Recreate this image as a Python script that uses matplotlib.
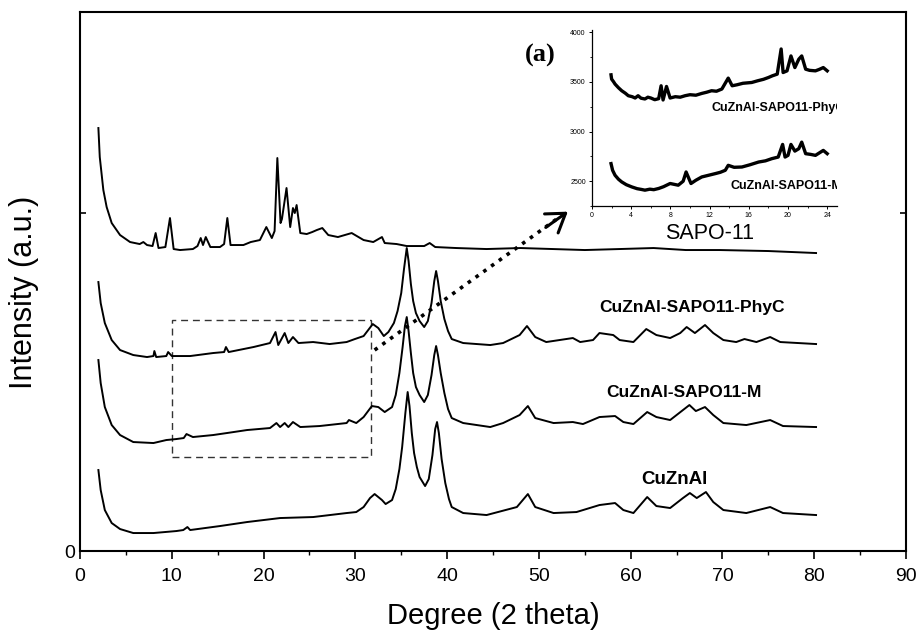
import matplotlib
matplotlib.use("Agg")
import matplotlib.pyplot as plt
from matplotlib.patches import Rectangle
from matplotlib.ticker import MultipleLocator

plt.rcParams['font.family'] = ['Liberation Sans', 'DejaVu Sans']

# --- main XRD patterns (2 theta, intensity in a.u., stacked offsets included) ---
sapo_x = [2.0, 2.15, 2.54, 2.9, 3.45, 4.36, 5.45, 6.5, 6.9, 7.3, 7.9, 8.24, 8.55, 9.3, 9.8, 10.2,
          10.9, 12.3, 12.8, 13.15, 13.4, 13.7, 14.2, 15.25, 15.7, 16.05, 16.4, 17.8, 18.6, 19.6,
          20.3, 20.9, 21.2, 21.5, 21.85, 22.0, 22.5, 22.9, 23.2, 23.4, 23.6, 24.0, 24.7, 25.3,
          25.8, 26.4, 27.05, 28.1, 29.6, 30.9, 31.95, 32.9, 33.2, 34.5, 35.6, 37.5, 38.1, 38.7,
          41.0, 44.3, 48.0, 51.5, 55.0, 58.8, 62.5, 66.0, 69.7, 75.0, 80.2]
sapo_y = [423, 394, 361, 344, 328, 316, 309, 307, 309, 306, 305, 318, 303, 304, 333, 302,
          301, 302, 305, 313, 306, 314, 304, 304, 307, 333, 306, 306, 309, 311,
          324, 313, 320, 393, 328, 332, 363, 324, 343, 338, 346, 318, 317, 319,
          321, 323, 316, 314, 318, 311, 309, 314, 308, 307, 305, 305, 308, 304,
          303, 302, 303, 302, 301, 302, 303, 301, 301, 300, 298]

phyc_x = [2.0, 2.25, 2.7, 3.45, 4.36, 5.8, 7.3, 8.0, 8.1, 8.3, 9.4, 9.6, 10.0, 12.0, 14.5, 15.7,
          15.9, 16.2, 18.9, 20.7, 21.3, 21.6, 22.3, 22.7, 23.2, 23.8, 25.4, 27.2, 29.05, 29.95,
          30.9, 31.4, 31.9, 32.5, 33.1, 33.6, 34.2, 34.6, 35.0, 35.3, 35.6, 35.8, 36.05, 36.3,
          36.6, 37.0, 37.5, 37.9, 38.3, 38.6, 38.8, 39.0, 39.3, 39.7, 40.1, 40.5, 41.75, 44.7,
          46.1, 47.9, 48.7, 49.6, 50.8, 53.7, 54.5, 55.9, 56.6, 58.1, 58.8, 60.3, 61.7, 62.8,
          64.3, 65.4, 66.1, 67.0, 68.1, 69.0, 70.1, 71.5, 72.4, 73.7, 75.2, 76.3, 80.2]
phyc_y = [269, 248, 228, 211, 201, 196, 194, 195, 200, 194, 195, 199, 195, 195, 198, 199,
          204, 199, 204, 208, 219, 206, 218, 208, 214, 208, 209, 207, 209, 212,
          215, 221, 227, 223, 215, 219, 228, 240, 258, 282, 303, 290, 267, 250,
          238, 230, 224, 230, 248, 270, 280, 270, 250, 232, 220, 212, 208, 206,
          208, 216, 225, 214, 209, 213, 209, 211, 218, 216, 211, 209, 222, 216,
          213, 218, 224, 218, 226, 218, 211, 209, 212, 209, 214, 209, 207]

m_x = [2.0, 2.25, 2.7, 3.45, 4.36, 5.8, 8.0, 9.4, 10.5, 11.3, 11.6, 12.3, 14.5, 16.0, 18.2, 20.7,
       21.4, 21.8, 22.3, 22.7, 23.2, 24.0, 26.1, 29.05, 29.3, 30.1, 30.9, 31.8, 32.5, 33.2,
       34.0, 34.4, 34.8, 35.15, 35.4, 35.6, 35.8, 36.05, 36.3, 36.6, 37.0, 37.5, 37.9, 38.3,
       38.6, 38.8, 39.0, 39.3, 39.7, 40.1, 40.5, 41.75, 44.7, 46.1, 47.9, 48.8, 49.6, 51.6,
       53.7, 54.8, 56.6, 58.3, 59.2, 60.3, 61.8, 62.8, 64.3, 65.7, 66.4, 67.1, 68.1, 69.0,
       70.1, 72.6, 75.2, 76.6, 80.2]
m_y = [191, 168, 144, 126, 116, 109, 108, 111, 112, 113, 117, 114, 116, 118, 121, 123,
       128, 124, 128, 124, 129, 124, 125, 128, 131, 128, 134, 145, 144, 139,
       144, 156, 178, 204, 225, 234, 220, 198, 178, 164, 156, 149, 156, 176,
       196, 205, 196, 178, 158, 142, 133, 128, 124, 128, 136, 145, 133, 128,
       129, 127, 134, 135, 129, 127, 139, 134, 131, 141, 146, 140, 144, 136,
       128, 126, 131, 125, 124]

cza_x = [2.0, 2.25, 2.7, 3.45, 4.36, 5.8, 8.0, 10.5, 11.25, 11.7, 12.0, 15.25, 18.2, 21.8, 25.4,
         29.05, 30.1, 30.9, 31.6, 32.1, 32.9, 33.3, 34.0, 34.4, 34.8, 35.1, 35.45, 35.7, 35.9,
         36.15, 36.4, 36.7, 37.0, 37.6, 38.0, 38.4, 38.7, 38.9, 39.1, 39.4, 39.8, 40.2, 40.5,
         41.75, 44.3, 47.6, 48.8, 49.6, 51.6, 54.1, 56.6, 58.3, 59.2, 60.3, 61.8, 62.8, 64.3,
         65.7, 66.45, 67.2, 68.2, 69.0, 70.1, 72.6, 75.2, 76.6, 80.2]
cza_y = [81, 61, 41, 28, 22, 18, 18, 20, 21, 24, 21, 25, 29, 33, 34,
         38, 39, 44, 53, 57, 51, 47, 51, 62, 82, 104, 138, 159, 145,
         118, 98, 84, 74, 65, 72, 96, 122, 129, 118, 92, 68, 52, 44,
         38, 36, 44, 57, 44, 38, 39, 46, 48, 41, 38, 54, 45, 43,
         53, 58, 53, 59, 49, 41, 38, 44, 38, 36]

# --- inset: low-angle region of the two composites ---
in_phyc_x = [1.94, 2.0, 2.2, 2.35, 2.7, 3.03, 3.4, 3.7, 4.1, 4.4, 4.7, 5.0, 5.4, 5.7, 6.0, 6.4,
             6.8, 7.05, 7.25, 7.6, 7.97, 8.5, 9.0, 9.5, 10.0, 10.6, 11.2, 11.7, 12.2, 12.7,
             13.25, 13.9, 14.3, 14.8, 15.4, 16.3, 16.9, 17.5, 18.0, 18.4, 18.9, 19.3, 19.5,
             19.9, 20.3, 20.7, 21.1, 21.4, 21.8, 22.2, 22.8, 23.2, 23.6, 24.0]
in_phyc_y = [3570, 3527, 3500, 3477, 3440, 3410, 3385, 3360, 3350, 3337, 3360, 3335, 3327, 3345,
             3337, 3320, 3330, 3460, 3317, 3453, 3337, 3350, 3345, 3360, 3370, 3365, 3383, 3395,
             3410, 3405, 3427, 3537, 3460, 3470, 3485, 3493, 3510, 3525, 3543, 3560, 3577, 3830,
             3593, 3610, 3760, 3643, 3727, 3760, 3627, 3615, 3610, 3625, 3643, 3610]
in_m_x = [1.94, 2.1, 2.35, 2.7, 3.03, 3.5, 4.05, 4.6, 5.0, 5.4, 5.9, 6.3, 6.8, 7.3, 7.97, 8.8,
          9.3, 9.6, 10.1, 10.6, 11.2, 11.9, 12.6, 13.1, 13.6, 13.9, 14.5, 15.3, 16.1, 17.0,
          17.7, 18.35, 19.0, 19.45, 19.7, 20.0, 20.3, 20.7, 21.1, 21.4, 21.8, 22.3, 22.8,
          23.2, 23.6, 24.0]
in_m_y = [2677, 2610, 2560, 2520, 2493, 2465, 2443, 2425, 2418, 2410, 2420, 2415, 2427, 2445,
          2477, 2460, 2500, 2593, 2477, 2510, 2543, 2560, 2577, 2590, 2610, 2660, 2640, 2643,
          2665, 2693, 2705, 2727, 2743, 2870, 2743, 2760, 2870, 2803, 2827, 2893, 2777, 2770,
          2760, 2785, 2810, 2777]

labels = ["CuZnAl-SAPO11-PhyC", "CuZnAl-SAPO11-M", "CuZnAl"]


def main():
    fig = plt.figure(figsize=(9.21, 6.4), dpi=100)
    ax = fig.add_axes([0.0869, 0.139, 0.8968, 0.8422])

    for xs, ys in [(sapo_x, sapo_y), (phyc_x, phyc_y), (m_x, m_y), (cza_x, cza_y)]:
        ax.plot(xs, ys, color='black', lw=1.4)

    ax.set_xlim(0, 90)
    ax.set_ylim(0, 539)
    ax.xaxis.set_major_locator(MultipleLocator(10))
    ax.xaxis.set_minor_locator(MultipleLocator(5))
    ax.set_yticks([0, 338])
    ax.set_yticklabels(['0', ''])
    ax.tick_params(axis='x', which='major', direction='out', length=6, width=1.2, labelsize=14, pad=6)
    ax.tick_params(axis='x', which='minor', direction='out', length=3, width=1.0)
    ax.tick_params(axis='y', direction='in', length=4, width=1.2, labelsize=14, right=True)
    for sp in ax.spines.values():
        sp.set_linewidth(1.5)

    ax.set_xlabel("Degree (2 theta)", fontsize=21)
    ax.xaxis.set_label_coords(0.5, -0.095)
    ax.set_ylabel("Intensity (a.u.)", fontsize=22)
    ax.yaxis.set_label_coords(-0.05, 0.48)

    # sample labels
    ax.text(66.7, 244, labels[0], ha='center', va='center', fontsize=12.5, fontweight='bold')
    ax.text(65.8, 159, labels[1], ha='center', va='center', fontsize=12.5, fontweight='bold')
    ax.text(64.8, 72, labels[2], ha='center', va='center', fontsize=13.5, fontweight='bold')
    ax.text(68.6, 318, "SAPO-11", ha='center', va='center', fontsize=15.5)
    ax.text(50.2, 496, "(a)", ha='center', va='center', fontsize=19, fontweight='bold',
            family='Liberation Serif')

    # zoom box and dotted arrow to the inset
    ax.add_patch(Rectangle((10, 94), 21.7, 137, fill=False, ls=(0, (5, 3.5)), lw=1.0, ec='#333333'))
    ax.plot([32.1, 53.0], [201, 339], ls=':', lw=2.6, color='black')
    ax.annotate('', xy=(53.4, 341), xytext=(50.5, 322),
                arrowprops=dict(arrowstyle='->, head_width=0.3, head_length=0.45',
                                lw=2.2, color='black', mutation_scale=28))

    # inset
    ins = fig.add_axes([0.6428, 0.678, 0.266, 0.275])
    ins.plot(in_phyc_x, in_phyc_y, color='black', lw=2.4)
    ins.plot(in_m_x, in_m_y, color='black', lw=2.4)
    ins.set_xlim(0, 25)
    ins.set_ylim(2250, 4020)
    ins.xaxis.set_major_locator(MultipleLocator(4))
    ins.xaxis.set_minor_locator(MultipleLocator(2))
    ins.yaxis.set_major_locator(MultipleLocator(500))
    ins.yaxis.set_minor_locator(MultipleLocator(250))
    ins.tick_params(which='major', length=2.5, width=0.7, labelsize=5, pad=2)
    ins.tick_params(which='minor', length=1.5, width=0.6)
    ins.spines['top'].set_visible(False)
    ins.spines['right'].set_visible(False)
    ins.spines['left'].set_linewidth(0.9)
    ins.spines['bottom'].set_linewidth(0.9)
    ins.text(12.15, 3240, labels[0], ha='left', va='center', fontsize=9, fontweight='bold', clip_on=True)
    ins.text(14.1, 2450, labels[1], ha='left', va='center', fontsize=9, fontweight='bold', clip_on=True)

    fig.savefig("out.png", dpi=100)
    plt.close(fig)


if __name__ == "__main__":
    main()
